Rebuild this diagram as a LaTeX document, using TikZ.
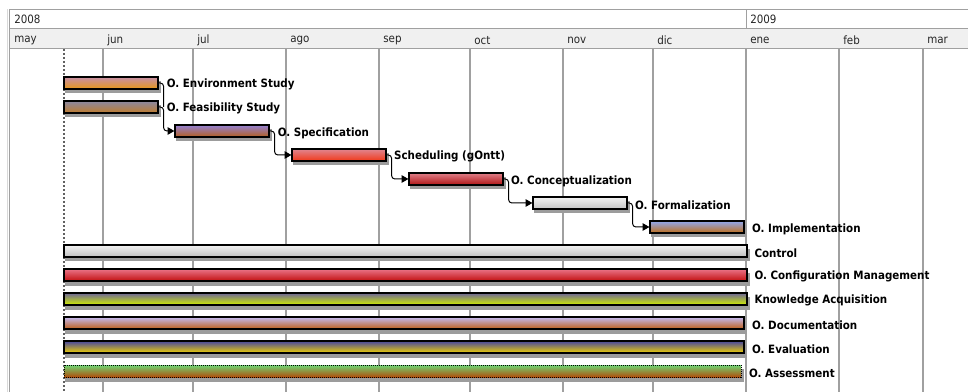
\documentclass[tikz,border=0pt]{standalone}
\usepackage{fontspec}
\setmainfont{DejaVu Sans Condensed}
\usetikzlibrary{arrows.meta,fit}
\definecolor{gridc}{HTML}{A0A0A0}
\definecolor{hdrbg}{HTML}{F0F0F0}
\definecolor{shadowc}{HTML}{9C9C9C}
% bar gradient colours (top / bottom)
\definecolor{envT}{HTML}{C890A8}\definecolor{envB}{HTML}{E89818}
\definecolor{feaT}{HTML}{8A88A2}\definecolor{feaB}{HTML}{C07C2C}
\definecolor{speT}{HTML}{9482D4}\definecolor{speB}{HTML}{B45E1E}
\definecolor{schT}{HTML}{E08690}\definecolor{schB}{HTML}{F23818}
\definecolor{conT}{HTML}{E0808A}\definecolor{conB}{HTML}{B01414}
\definecolor{forT}{HTML}{F2F2F2}\definecolor{forB}{HTML}{C4C4C4}
\definecolor{impT}{HTML}{90A8F0}\definecolor{impB}{HTML}{C06E18}
\definecolor{ctlT}{HTML}{F2F2F2}\definecolor{ctlB}{HTML}{BEBEBE}
\definecolor{cfgT}{HTML}{EA7488}\definecolor{cfgB}{HTML}{C21010}
\definecolor{knoT}{HTML}{6E6698}\definecolor{knoB}{HTML}{D2F000}
\definecolor{docT}{HTML}{C4BCF4}\definecolor{docB}{HTML}{C05E16}
\definecolor{evaT}{HTML}{4646A0}\definecolor{evaB}{HTML}{F2D200}
\definecolor{assT}{HTML}{70D474}\definecolor{assB}{HTML}{B04E0C}
\tikzset{
  gridline/.style={draw=gridc, line width=0.8pt},
  frame/.style={draw=gridc, line width=0.75pt},
  barshadow/.style={fill=shadowc},
  bar/.style 2 args={draw=black, line width=0.9pt, top color=#1, bottom color=#2,
    inner sep=0pt},
  lbl/.style={anchor=west, inner sep=0pt, yshift=-1.4pt,
    font=\fontsize{8.6pt}{10pt}\selectfont\bfseries},
  hdr/.style={anchor=west, inner sep=0pt, font=\fontsize{8.6pt}{10pt}\selectfont, text=black!85},
  conn/.style={draw=black, line width=0.75pt, rounded corners=2.5pt,
    -{Triangle[length=5pt,width=5.5pt]}},
  link/.style={draw=black, line width=0.75pt, rounded corners=2.5pt},
}
\begin{document}
\begin{tikzpicture}[x=0.75pt,y=-0.75pt]
\useasboundingbox (0,0) rectangle (968,392);
\fill[white] (0,0) rectangle (968,392);

% header: year row and month row
\fill[hdrbg] (9.5,29) rectangle (968,49);
\draw[draw=black!15, line width=0.75pt] (7,9.5) -- (7,392);
\draw[frame] (9.5,392) -- (9.5,9.5) -- (968,9.5);
\draw[frame] (9.5,29) -- (968,29);
\draw[frame] (9.5,49) -- (968,49);
\draw[frame] (746,9.5) -- (746,29);
\node[hdr] (y2008) at (14,19.5) {2008};
\node[hdr] (y2009) at (750,19.5) {2009};

% month grid
\foreach \mx/\mname in {103/jun,193/jul,286/ago,379/sep,470/oct,563/nov,653/dic,746/ene,839/feb,923/mar}{
  \draw[gridline] (\mx,49) -- (\mx,392);
  \node[hdr] at (\mx+4,40.5) {\mname};
}
\node[hdr] (mmay) at (14,40.5) {may};

% project start marker
\draw[draw=black!62, line width=1.5pt, dash pattern=on 1.5pt off 1.5pt] (64,49) -- (64,392);

% bar shadows (offset down-right)
\foreach \xa/\xb/\ya in {64/158/77, 64/158/101, 175/269/125, 292/386/149, 409/503/173,
    533/627/197, 650/744/221, 64/747/245, 64/747/269, 64/747/293, 64/744/317,
    64/744/341, 64/741/365}{
  \fill[barshadow] (\xa+1,\ya+4) rectangle (\xb+2.5,\ya+16.5);
}

% task bars
\node[bar={envT}{envB}, fit={(64,77)(158,89)}] (env) {};
\node[bar={feaT}{feaB}, fit={(64,101)(158,113)}] (feas) {};
\node[bar={speT}{speB}, fit={(175,125)(269,137)}] (spec) {};
\node[bar={schT}{schB}, fit={(292,149)(386,161)}] (sched) {};
\node[bar={conT}{conB}, fit={(409,173)(503,185)}] (concept) {};
\node[bar={forT}{forB}, fit={(533,197)(627,209)}] (formal) {};
\node[bar={impT}{impB}, fit={(650,221)(744,233)}] (impl) {};
\node[bar={ctlT}{ctlB}, fit={(64,245)(747,257)}] (control) {};
\node[bar={cfgT}{cfgB}, fit={(64,269)(747,281)}] (config) {};
\node[bar={knoT}{knoB}, fit={(64,293)(747,305)}] (know) {};
\node[bar={docT}{docB}, fit={(64,317)(744,329)}] (doc) {};
\node[bar={evaT}{evaB}, fit={(64,341)(744,353)}] (eval) {};
\node[bar={assT}{assB}, fit={(64,365)(741,377)}, line width=0.75pt,
      dash pattern=on 0.75pt off 0.75pt] (assess) {};

% task labels
\node[lbl] at ([xshift=6pt]env.east) {O. Environment Study};
\node[lbl] at ([xshift=6pt]feas.east) {O. Feasibility Study};
\node[lbl] at ([xshift=6pt]spec.east) {O. Specification};
\node[lbl] at ([xshift=5.5pt]sched.east) {Scheduling (gOntt)};
\node[lbl] at ([xshift=5.5pt]concept.east) {O. Conceptualization};
\node[lbl] at ([xshift=5.5pt]formal.east) {O. Formalization};
\node[lbl] at ([xshift=5.5pt]impl.east) {O. Implementation};
\node[lbl] at ([xshift=5pt]control.east) {Control};
\node[lbl] at ([xshift=5pt]config.east) {O. Configuration Management};
\node[lbl] at ([xshift=5pt]know.east) {Knowledge Acquisition};
\node[lbl] at ([xshift=5.5pt]doc.east) {O. Documentation};
\node[lbl] at ([xshift=5.5pt]eval.east) {O. Evaluation};
\node[lbl] at ([xshift=5.5pt]assess.east) {O. Assessment};

% dependencies
\draw[link] (env.east) -- ++(5,0) -- ++(0,24);
\draw[conn] (feas.east) -- ++(5,0) |- (spec.west);
\draw[conn] (spec.east) -- ++(5,0) |- (sched.west);
\draw[conn] (sched.east) -- ++(5,0) |- (concept.west);
\draw[conn] (concept.east) -- ++(5,0) |- (formal.west);
\draw[conn] (formal.east) -- ++(5,0) |- (impl.west);
\end{tikzpicture}
\end{document}
